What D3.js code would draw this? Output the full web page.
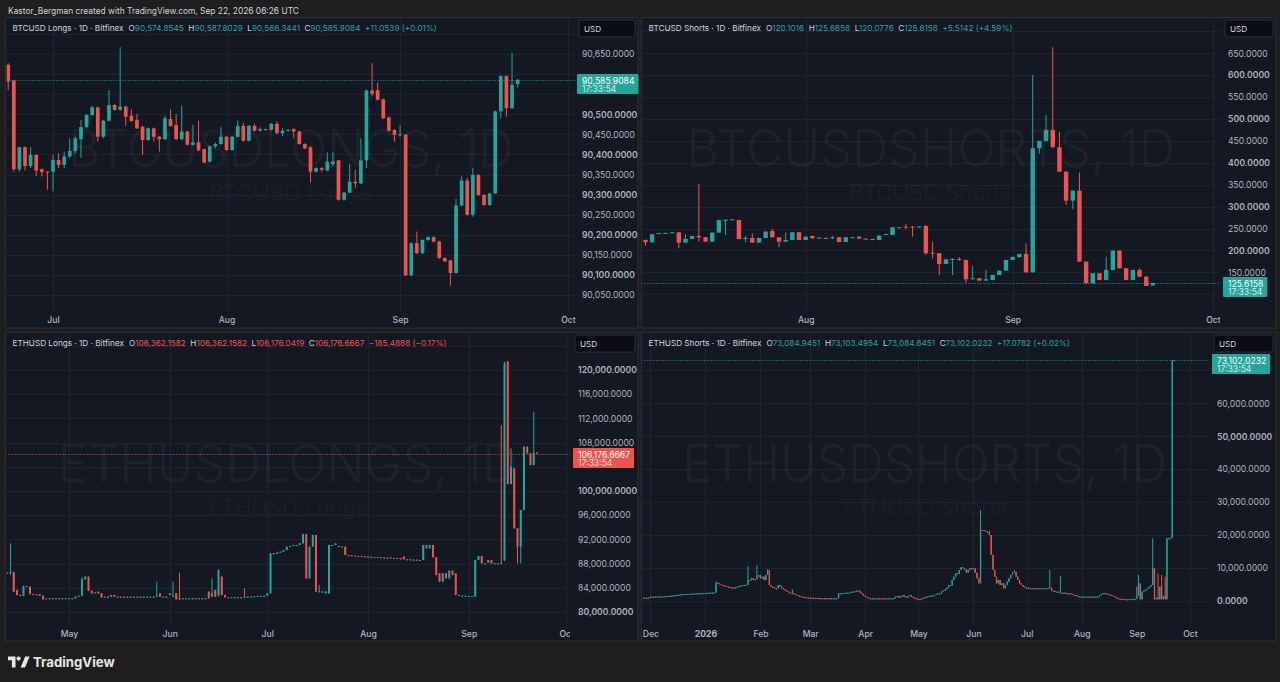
<!DOCTYPE html>
<html>
<head>
<meta charset="utf-8">
<script src="https://cdn.jsdelivr.net/npm/d3@7/dist/d3.min.js"></script>
<style>
  html, body { margin:0; padding:0; background:#1e1e1e; }
  svg { display:block; }
</style>
</head>
<body>
<svg id="chart" width="1280" height="682"></svg>
<script>
// ===================== DATA =====================
const headerText = "Kastor_Bergman created with TradingView.com, Sep 22, 2026 06:26 UTC";
const countdown = "17:33:54";

// ---- BTCUSD Longs, daily [open, high, low, close]
const btcLongsJun = [ // from 2026-06-23
  [90623, 90627, 90560, 90581],[90584, 90584, 90357, 90363],[90363, 90418, 90357, 90418],[90418, 90420, 90360, 90371],
  [90371, 90418, 90366, 90399],[90399, 90399, 90347, 90360],[90363, 90365, 90345, 90356],[90357, 90358, 90312, 90355]
];
const btcLongsJul = [
  [90357, 90399, 90308, 90386],[90386, 90403, 90366, 90374],[90374, 90407, 90366, 90395],[90395, 90440, 90391, 90409],
  [90409, 90444, 90403, 90440],[90438, 90486, 90391, 90468],[90468, 90501, 90465, 90498],[90498, 90521, 90496, 90517],
  [90517, 90519, 90432, 90444],[90444, 90486, 90440, 90484],[90484, 90560, 90482, 90523],[90523, 90525, 90509, 90511],
  [90511, 90667, 90509, 90519],[90519, 90521, 90471, 90494],[90496, 90512, 90481, 90483],[90486, 90501, 90463, 90465],
  [90469, 90471, 90399, 90436],[90436, 90467, 90434, 90465],[90465, 90467, 90432, 90444],[90444, 90446, 90407, 90438],
  [90438, 90496, 90436, 90490],[90488, 90512, 90469, 90471],[90473, 90501, 90436, 90438],[90438, 90521, 90436, 90457],
  [90457, 90459, 90422, 90424],[90424, 90473, 90422, 90430],[90430, 90484, 90408, 90410],[90413, 90415, 90378, 90380],
  [90382, 90422, 90380, 90420],[90420, 90430, 90415, 90426],[90426, 90468, 90424, 90444]
];
const btcLongsAug = [
  [90444, 90446, 90409, 90411],[90411, 90446, 90409, 90444],[90444, 90484, 90442, 90471],[90471, 90479, 90432, 90434],
  [90434, 90473, 90432, 90471],[90471, 90476, 90457, 90459],[90459, 90468, 90457, 90463],[90463, 90464, 90459, 90461],
  [90461, 90478, 90459, 90476],[90476, 90482, 90451, 90453],[90453, 90465, 90446, 90459],[90459, 90463, 90457, 90461],
  [90463, 90465, 90440, 90457],[90457, 90459, 90424, 90426],[90426, 90428, 90413, 90415],[90418, 90420, 90330, 90357],
  [90357, 90368, 90355, 90366],[90366, 90368, 90357, 90362],[90360, 90405, 90358, 90382],[90376, 90405, 90370, 90382],
  [90385, 90386, 90285, 90287],[90287, 90307, 90285, 90305],[90305, 90376, 90303, 90332],[90332, 90362, 90316, 90328],
  [90328, 90440, 90326, 90385],[90385, 90562, 90366, 90559],[90559, 90627, 90545, 90551],[90560, 90579, 90534, 90536],
  [90537, 90539, 90488, 90490],[90492, 90494, 90457, 90459],[90461, 90463, 90432, 90449]
];
const btcLongsSep = [
  [90449, 90473, 90444, 90450],[90449, 90451, 90097, 90099],[90099, 90181, 90097, 90179],[90179, 90208, 90152, 90154],
  [90154, 90189, 90152, 90187],[90187, 90196, 90185, 90194],[90194, 90196, 90181, 90183],[90183, 90185, 90140, 90142],
  [90142, 90144, 90132, 90134],[90136, 90138, 90073, 90105],[90105, 90289, 90103, 90273],[90273, 90345, 90271, 90335],
  [90335, 90341, 90248, 90250],[90250, 90366, 90245, 90349],[90349, 90351, 90297, 90299],[90299, 90301, 90272, 90274],
  [90274, 90305, 90272, 90303],[90303, 90509, 90301, 90507],[90507, 90597, 90490, 90595],[90595, 90597, 90494, 90515],
  [90515, 90653, 90513, 90573],[90574.8545, 90587.8029, 90566.3441, 90585.9084]
];
const btcLongsPriceTicks = [90050,90100,90150,90200,90250,90300,90350,90400,90450,90500,90550,90600,90650,90700];
const btcLongsTimeTicks = ["2026-07-01","2026-08-01","2026-09-01","2026-10-01"];

// ---- BTCUSD Shorts, daily [open, high, low, close]
const btcShortsJul = [ // from 2026-07-08
  [224, 224.5, 210, 218.5],[218.5, 237, 218, 236.8],[239, 240, 238.5, 239.5],[239.5, 240.5, 239, 240],
  [240.5, 241.8, 240, 241.3],[241.3, 241.5, 204.8, 217.8],[217.8, 236.8, 217, 226.1],[226.1, 233.5, 225.5, 233],
  [233, 351.7, 220, 230],[230, 230.5, 219, 220],[220, 241, 219.5, 240.6],[240.6, 270, 240, 269.5],
  [269, 271, 235.3, 270],[270.5, 271.5, 270, 271],[269.5, 270, 225.5, 226.1],[226.1, 233, 218.5, 228.4],
  [228.4, 239, 217, 217.8],[217.8, 229, 217, 228.4],[228.4, 243.5, 228, 242.9],[244.4, 249, 229.5, 229.9],
  [229.9, 230.5, 207.1, 220],[220, 240.6, 219.5, 223.8],[223.8, 241.8, 223.3, 241.3],[241.3, 241.8, 223.3, 223.8]
];
const btcShortsAug = [
  [223.8, 232, 223.3, 231.5],[233, 233.5, 225.4, 228.4],[229, 229.8, 228.6, 229.2],[228.6, 229, 228, 228.4],
  [229.6, 233, 225.4, 229.9],[229.9, 230.4, 218.8, 219.3],[219.3, 230.4, 218.8, 229.9],[229.9, 230.4, 229.4, 229.9],
  [231.5, 232, 226.4, 226.9],[226.9, 227.4, 226.4, 226.9],[226.1, 226.6, 223.3, 223.8],[223.8, 234.2, 223.3, 233.7],
  [235.3, 237.8, 235, 237.5],[235.3, 253.3, 234.8, 252.8],[252.8, 253.3, 252.3, 252.8],[254.3, 260.4, 248.2, 252],
  [254.3, 254.8, 231.5, 252],[254.3, 254.8, 253.8, 254.3],[255.8, 258.1, 189.6, 193.4],[194.9, 220, 182, 193.4],
  [193.4, 193.9, 143.9, 169],[169, 180.2, 168.5, 179.7],[178.2, 182, 143.9, 180.5],[180, 185, 176, 179],
  [178.2, 178.7, 126.4, 134.1],[134.1, 164.5, 133.6, 136.3],[136.3, 136.8, 130.5, 131],[131, 155.4, 130.5, 134.1],
  [132.5, 144.4, 132, 143.9],[143.9, 154.3, 143.4, 153.8],[153.8, 178.7, 153.3, 178.2]
];
const btcShortsSep = [
  [178.2, 185.5, 177.7, 185],[184.3, 192.4, 183.8, 191.9],[191.9, 216.2, 149.5, 150],[150, 600.5, 149.5, 433.1],
  [433.1, 450.4, 420.2, 449.9],[449.9, 509.2, 449.4, 475],[475, 663.7, 434.9, 435.4],[435.4, 471.2, 379.3, 379.8],
  [379.8, 380.3, 303.7, 313.6],[313.6, 337, 293.9, 336.5],[336.5, 377.6, 173.9, 174.4],[174.4, 174.9, 124.4, 124.9],
  [124.9, 148.2, 124.4, 147.7],[147.7, 148.2, 132, 132.5],[132.5, 185.8, 132, 155.4],[155.4, 200, 155, 199.5],
  [199.5, 200, 158.6, 159.1],[159.1, 159.6, 132, 132.5],[132.5, 155.9, 132, 155.4],[155.4, 159.1, 139.6, 140.1],
  [140.1, 140.6, 118.3, 118.8],[120.1016, 125.6658, 120.0776, 125.6158]
];
const btcShortsPriceTicks = [100,150,200,250,300,350,400,450,500,550,600,650,700];
const btcShortsTimeTicks = ["2026-08-01","2026-09-01","2026-10-01"];

// ---- ETHUSD Longs, daily [open, high, low, close]
const ethLongsApr = [ // from 2026-04-12
  [86499, 86550, 86440, 86480],[86480, 91348, 86114, 86600],[86600, 86650, 83300, 83360],[83634, 83700, 82750, 82808],
  [82808, 82850, 82600, 82642],[82642, 84350, 82600, 84295],[84185, 84350, 84150, 84295],[84185, 84220, 82900, 82973],
  [82973, 83000, 82940, 82960],[82918, 82950, 82900, 82930],[82973, 82990, 82680, 82697],[82697, 82720, 82050, 82091],
  [82200, 82280, 82150, 82257],[82257, 82280, 82200, 82230],[82230, 82280, 82200, 82257],[82257, 82300, 82230, 82280],
  [82280, 82300, 82230, 82250],[82250, 82270, 82220, 82240],[82240, 82280, 82220, 82257]
];
const ethLongsMay = [
  [82257, 82290, 82240, 82270],[82270, 82290, 82230, 82257],[82257, 82560, 82230, 82532],[82532, 82720, 82500, 82697],
  [82697, 85728, 82680, 85397],[85397, 85900, 85350, 85838],[85838, 85860, 83450, 83524],[83524, 83550, 83050, 83083],
  [83250, 83280, 83200, 83250],[83360, 83380, 83050, 83083],[83083, 83100, 82400, 82422],[82422, 82560, 82400, 82532],
  [82532, 82560, 82500, 82532],[82532, 82820, 82510, 82808],[82808, 82830, 82500, 82532],[82532, 82560, 82500, 82520],
  [82520, 82550, 82490, 82532],[82532, 82560, 82500, 82530],[82530, 82560, 82500, 82532],[82532, 82550, 82480, 82500],
  [82500, 82540, 82470, 82520],[82520, 82560, 82500, 82532],[82532, 82550, 82500, 82510],[82510, 82550, 82490, 82532],
  [82532, 82560, 82500, 82530],[82530, 82560, 82500, 82532],[82532, 82560, 82500, 82540],[82532, 85012, 82500, 82700],
  [83083, 83100, 82500, 82532],[82532, 82560, 82500, 82532],[82532, 82560, 82500, 82520]
];
const ethLongsJun = [
  [82808, 83100, 82780, 83083],[82600, 85012, 82500, 82700],[83083, 83100, 82050, 82091],[82257, 86499, 81981, 82200],
  [82257, 82280, 82230, 82257],[82257, 82280, 82230, 82250],[82250, 82280, 82230, 82257],[82257, 82280, 82230, 82257],
  [82257, 82290, 82230, 82270],[82270, 82280, 82230, 82257],[82257, 82280, 82230, 82250],[82250, 82280, 82230, 82257],
  [83360, 83400, 82230, 82257],[82532, 85563, 82500, 83083],[83634, 83660, 82500, 82532],[82700, 87050, 82600, 86940],
  [85838, 85900, 82780, 82808],[82808, 82830, 82400, 82422],[82422, 82450, 82400, 82422],[82422, 82450, 82400, 82430],
  [82430, 82450, 82400, 82422],[82422, 82450, 82400, 82422],[82422, 82450, 82400, 82440],[82532, 83910, 82500, 82520],
  [82520, 82560, 82500, 82532],[82532, 82580, 82510, 82560],[82560, 82620, 82540, 82600],[82600, 82660, 82580, 82642],
  [82642, 82680, 82620, 82660],[82660, 82710, 82640, 82697]
];
const ethLongsJul = [
  [82697, 83100, 82680, 83083],[83083, 89750, 83050, 89695],[89695, 89720, 89650, 89680],[89585, 89850, 89560, 89805],
  [89805, 89990, 89780, 89970],[89970, 90260, 89950, 90246],[90246, 90820, 90230, 90797],[90907, 90930, 90880, 90907],
  [90907, 91100, 90890, 91073],[91073, 91090, 91050, 91073],[91073, 91370, 91050, 91348],[91348, 92950, 91330, 92891],
  [92891, 92920, 85500, 85563],[85563, 90830, 85540, 90797],[90797, 92750, 90780, 92728],[92728, 92750, 83330, 83360],
  [83360, 84460, 83300, 83400],[83360, 83390, 83330, 83360],[83083, 83500, 83050, 83360],[83083, 91100, 83050, 91073],
  [91073, 91100, 91050, 91073],[91073, 91348, 91050, 91348],[90907, 90930, 90780, 90797],[90797, 90820, 90780, 90797],
  [90797, 90820, 89400, 89420],[89420, 89440, 89340, 89364],[89364, 89390, 89290, 89309],[89309, 89330, 89230, 89254],
  [89254, 89280, 89230, 89254],[89254, 89270, 89180, 89199],[89199, 89220, 89120, 89144]
];
const ethLongsAug = [
  [89144, 89170, 89120, 89144],[89144, 89160, 89070, 89089],[89089, 89110, 89070, 89089],[89089, 89110, 89010, 89034],
  [89034, 89060, 89010, 89034],[89034, 89050, 88960, 88979],[88979, 89000, 88960, 88979],[88979, 89000, 88900, 88924],
  [88924, 88950, 88900, 88924],[88924, 88940, 88850, 88869],[88869, 88890, 88790, 88813],[89144, 89170, 88680, 88703],
  [88703, 88730, 88680, 88703],[88703, 88720, 88630, 88648],[88648, 88670, 88630, 88648],[88648, 88660, 88570, 88593],
  [88593, 88620, 88570, 88593],[88593, 91100, 88570, 91073],[91073, 91090, 90500, 90522],[90522, 91100, 90500, 91073],
  [91073, 91090, 89000, 89034],[89034, 89060, 86080, 86114],[86389, 86420, 84980, 85012],[85012, 86420, 84980, 86389],
  [86389, 86420, 85540, 85563],[85563, 86860, 85540, 86830],[86830, 86860, 86080, 86114],[86389, 86420, 82780, 82808],
  [82808, 82830, 82780, 82808],[82697, 82720, 82680, 82697],[82697, 82720, 82680, 82697]
];
const ethLongsSep = [
  [82642, 82660, 82620, 82642],[82642, 82660, 82620, 82650],[82532, 88620, 82510, 88593],[88593, 89280, 88570, 89254],
  [89254, 89280, 88020, 88042],[88042, 88070, 88020, 88042],[88152, 88620, 88130, 88593],[88593, 88620, 88020, 88042],
  [88042, 88070, 88020, 88042],[88042, 88070, 87950, 88042],[88100, 110909, 87900, 88000],[88600, 121350, 88400, 121102],
  [121378, 121500, 101100, 101156],[101156, 107052, 101100, 104021],[103746, 103780, 93800, 93828],[93828, 93850, 88042, 90797],
  [90797, 96900, 88042, 96858],[96858, 107400, 96800, 107327],[107327, 107350, 106200, 106225],[106225, 106250, 104270, 104297],
  [104297, 113113, 104250, 106362],[106362.1582, 106362.1582, 106176.0419, 106176.6667]
];
const ethLongsPriceTicks = [80000,84000,88000,92000,96000,100000,104000,108000,112000,116000,120000,124000];
const ethLongsTimeTicks = ["2026-05-01","2026-06-01","2026-07-01","2026-08-01","2026-09-01","2026-10-01"];

// ---- ETHUSD Shorts, daily closes (open = previous close), by month
const ethShortsNov = [1000, 1010, 990, 1012]; // from 2025-11-27
const ethShortsDec = [1316,1290,1310,1330,1330,1380,1370,1420,1470,1460,1540,1600,1590,1680,1760,1822,1870,1990,2060,2100,2125,2120,2170,2200,2230,2300,2330,2320,2330,2380,2400];
const ethShortsJan = [2430,2470,2500,2540,2510,2530,5566,5364,5100,4858,4700,4554,4352,4250,4150,4048,4060,4150,4352,4554,4700,4858,4830,4900,6376,6300,6882,6376,6600,7388,7894];
const ethShortsFeb = [6882,7388,6376,7894,9412,4858,4352,4200,3846,3846,4858,4352,3846,3542,3137,2834,2530,2328,2328,2125,1822,1620,1518,1316,1200,1100,1012,1012];
const ethShortsMar = [1000,950,910,900,880,850,830,810,810,830,820,810,800,810,820,810,2328,2328,2400,2430,2480,2530,2530,2834,2834,2900,3137,3137,2530,2125,1620];
const ethShortsApr = [1316,1012,810,810,800,790,800,810,800,790,800,790,810,800,800,810,820,1316,1518,1012,1316,1822,1316,1012,1518,1822,1316,1012,810,700];
const ethShortsMay = [600,506,810,1012,1316,1280,1518,1620,1580,1822,2125,2328,2280,2834,3137,3542,4048,4858,4700,6376,7388,8400,8200,9412,10221,9918,9614,8602,9412,9918,9614];
const ethShortsJun = [9918,8602,6882,5364,21556,21556,21300,21050,21050,20038,14000,9412,7388,5364,6376,4858,5364,3846,4858,5870,6882,7894,8602,8906,7388,6376,5364,4858,4352,4048];
const ethShortsJul = [4048,3950,3846,3846,3900,3846,3846,3800,3846,3900,3846,3846,3950,4048,3137,3137,2834,2834,2530,2530,2328,2530,2328,2125,2328,2125,1822,1822,1518,1316,1316];
const ethShortsAug = [1316,1300,1316,1316,1250,1316,1316,1300,1316,1350,1822,2125,2328,2328,2125,2000,1822,1518,1316,1012,810,700,600,600,550,506,506,600,550,600,700];
const ethShortsSep = [1518,5364,506,2834,3137,3542,3846,4352,4858,9918,506,1012,506,4352,506,1518,506,19026,19060,19085,73085];
const ethShortsLast = [73084.9451, 73103.4954, 73084.6451, 73102.0232]; // 2026-09-22 [o,h,l,c]
const ethShortsWickHighs = [
  ["2026-01-07", 5870], ["2026-01-25", 10626], ["2026-01-30", 10930], ["2026-02-05", 9614],
  ["2026-02-19", 3542], ["2026-06-05", 27628], ["2026-06-24", 9412], ["2026-07-14", 9412],
  ["2026-07-20", 7590], ["2026-09-01", 4352], ["2026-09-02", 7894], ["2026-09-10", 19026],
  ["2026-09-13", 8400], ["2026-09-15", 7894], ["2026-09-17", 7388]
];
const ethShortsPriceTicks = [0,10000,20000,30000,40000,50000,60000,70000];
const ethShortsTimeTicks = ["2025-12-01","2026-01-01","2026-02-01","2026-03-01","2026-04-01","2026-05-01","2026-06-01","2026-07-01","2026-08-01","2026-09-01","2026-10-01"];

// ===================== BUILD =====================
const utc = s => new Date(s + "T00:00:00Z");
function fromRows(blocks) {
  const out = [];
  blocks.forEach(([start, rows]) => rows.forEach((r, i) =>
    out.push({date: d3.utcDay.offset(utc(start), i), o: r[0], h: r[1], l: r[2], c: r[3]})));
  return out;
}
const btcLongs = fromRows([["2026-06-23", btcLongsJun], ["2026-07-01", btcLongsJul], ["2026-08-01", btcLongsAug], ["2026-09-01", btcLongsSep]]);
const btcShorts = fromRows([["2026-07-08", btcShortsJul], ["2026-08-01", btcShortsAug], ["2026-09-01", btcShortsSep]]);
const ethLongs = fromRows([["2026-04-12", ethLongsApr], ["2026-05-01", ethLongsMay], ["2026-06-01", ethLongsJun], ["2026-07-01", ethLongsJul], ["2026-08-01", ethLongsAug], ["2026-09-01", ethLongsSep]]);
const ethShorts = (() => {
  const blocks = [["2025-11-27", ethShortsNov], ["2025-12-01", ethShortsDec], ["2026-01-01", ethShortsJan], ["2026-02-01", ethShortsFeb],
    ["2026-03-01", ethShortsMar], ["2026-04-01", ethShortsApr], ["2026-05-01", ethShortsMay], ["2026-06-01", ethShortsJun],
    ["2026-07-01", ethShortsJul], ["2026-08-01", ethShortsAug], ["2026-09-01", ethShortsSep]];
  const out = []; let prev = null;
  blocks.forEach(([start, closes]) => closes.forEach((c, i) => {
    const o = prev == null ? c : prev;
    out.push({date: d3.utcDay.offset(utc(start), i), o, h: Math.max(o, c), l: Math.min(o, c), c});
    prev = c;
  }));
  const byKey = new Map(out.map(d => [d3.utcFormat("%Y-%m-%d")(d.date), d]));
  ethShortsWickHighs.forEach(([k, h]) => { const d = byKey.get(k); if (d) d.h = Math.max(d.h, h); });
  out.push({date: utc("2026-09-22"), o: ethShortsLast[0], h: ethShortsLast[1], l: ethShortsLast[2], c: ethShortsLast[3]});
  return out;
})();

// ===================== LAYOUT / STYLE =====================
const FONT = 'Inter, "Noto Sans", "DejaVu Sans", sans-serif';
const UP = "#26a69a", DOWN = "#ef5350";
const OUTER = "#1e1e1e", PANEL = "#141823", GRID = "#1f2330", TXT = "#d1d4dc", AXTXT = "#b2b5be";
const WM = "rgba(255,255,255,0.038)";

const panels = [
  {id:"p1", candles: btcLongs, title:"BTCUSD Longs · 1D · Bitfinex", change:"+11.0539 (+0.01%)",
   wmBig:"BTCUSDLONGS, 1D", wmSmall:"BTCUSD Longs", wmBigW:445, wmSmallW:162,
   left:5.5, top:17.5, right:638, bottom:328, plotRight:576, plotBottom:311, axisX:582, timeY:319.5,
   xDomain:["2026-07-01","2026-10-01"], xRange:[53,568], yDomain:[90050,90650], yRange:[295,54],
   priceTicks: btcLongsPriceTicks, timeTicks: btcLongsTimeTicks, majorStep:100, bodyFrac:0.66},
  {id:"p2", candles: btcShorts, title:"BTCUSD Shorts · 1D · Bitfinex", change:"+5.5142 (+4.59%)",
   wmBig:"BTCUSDSHORTS, 1D", wmSmall:"BTCUSD Shorts", wmBigW:489, wmSmallW:162,
   left:641.5, top:17.5, right:1276, bottom:328, plotRight:1220, plotBottom:311, axisX:1228, timeY:319.5,
   xDomain:["2026-08-01","2026-10-01"], xRange:[805.7,1213], yDomain:[150,650], yRange:[272.3,53.3],
   priceTicks: btcShortsPriceTicks, timeTicks: btcShortsTimeTicks, majorStep:100, bodyFrac:0.66},
  {id:"p3", candles: ethLongs, title:"ETHUSD Longs · 1D · Bitfinex", change:"\u2212185.4888 (\u22120.17%)",
   wmBig:"ETHUSDLONGS, 1D", wmSmall:"ETHUSD Longs", wmBigW:460, wmSmallW:160,
   left:5.5, top:332.5, right:638, bottom:641, plotRight:570, plotBottom:625, axisX:578, timeY:633.5,
   xDomain:["2026-05-01","2026-10-01"], xRange:[69,566.25], yDomain:[80000,120000], yRange:[612,370],
   priceTicks: ethLongsPriceTicks, timeTicks: ethLongsTimeTicks, majorStep:20000, bodyFrac:0.62},
  {id:"p4", candles: ethShorts, title:"ETHUSD Shorts · 1D · Bitfinex", change:"+17.0782 (+0.02%)",
   wmBig:"ETHUSDSHORTS, 1D", wmSmall:"ETHUSD Shorts", wmBigW:485, wmSmallW:165,
   left:641.5, top:332.5, right:1276, bottom:641, plotRight:1208, plotBottom:625, axisX:1217, timeY:633.5,
   xDomain:["2025-12-01","2026-10-01"], xRange:[650.4,1190], yDomain:[0,60000], yRange:[601,403.3],
   priceTicks: ethShortsPriceTicks, timeTicks: ethShortsTimeTicks, majorStep:50000, bodyFrac:0.7}
];

// ===================== DRAW =====================
const svg = d3.select("#chart");
const defs = svg.append("defs");
svg.append("rect").attr("width",1280).attr("height",682).attr("fill",OUTER);
svg.append("text").attr("x",8).attr("y",13.5).attr("fill",TXT).attr("font-family",FONT)
   .attr("font-size",8.4).text(headerText);

const fmt4 = d3.format(",.4f");
const fmtPrice = v => fmt4(v).replace("-", "\u2212");
const fmtTime = d => d.getUTCMonth() === 0 ? d3.utcFormat("%Y")(d) : d3.utcFormat("%b")(d);

panels.forEach(drawPanel);

function drawPanel(p) {
  const g = svg.append("g");
  g.append("rect").attr("x",p.left).attr("y",p.top).attr("width",p.right-p.left).attr("height",p.bottom-p.top)
    .attr("fill",PANEL).attr("stroke","#2a2e39");
  const x = d3.scaleUtc().domain(p.xDomain.map(utc)).range(p.xRange);
  const y = d3.scaleLinear().domain(p.yDomain).range(p.yRange);

  defs.append("clipPath").attr("id","clip-"+p.id).append("rect")
    .attr("x",p.left+1).attr("y",p.top+1).attr("width",p.plotRight-p.left-1).attr("height",p.plotBottom-p.top-1);
  const plot = g.append("g").attr("clip-path",`url(#clip-${p.id})`);

  // grid
  plot.append("g").selectAll("line").data(p.priceTicks).join("line")
    .attr("x1",p.left).attr("x2",p.plotRight)
    .attr("y1",d=>Math.round(y(d))+0.5).attr("y2",d=>Math.round(y(d))+0.5)
    .attr("stroke",GRID).attr("stroke-width",1);
  plot.append("g").selectAll("line").data(p.timeTicks.map(utc)).join("line")
    .attr("x1",d=>Math.round(x(d))+0.5).attr("x2",d=>Math.round(x(d))+0.5)
    .attr("y1",p.top).attr("y2",p.plotBottom)
    .attr("stroke",GRID).attr("stroke-width",1);

  // watermark
  const cx = (p.left + p.plotRight) / 2;
  plot.append("text").attr("x",cx).attr("y",p.top+149).attr("text-anchor","middle")
    .attr("font-family",FONT).attr("font-size",52).attr("font-weight",300).attr("fill",WM)
    .attr("textLength",p.wmBigW).attr("lengthAdjust","spacingAndGlyphs").text(p.wmBig);
  plot.append("text").attr("x",cx).attr("y",p.top+182).attr("text-anchor","middle")
    .attr("font-family",FONT).attr("font-size",21).attr("font-weight",300).attr("fill",WM)
    .attr("textLength",p.wmSmallW).attr("lengthAdjust","spacingAndGlyphs").text(p.wmSmall);

  // candles
  const t0 = utc("2026-01-01");
  const step = x(d3.utcDay.offset(t0,1)) - x(t0);
  const bw = Math.max(1, step * p.bodyFrac);
  const col = d => d.c >= d.o ? UP : DOWN;
  const cg = plot.append("g");
  cg.selectAll("rect.wick").data(p.candles).join("rect").attr("class","wick")
    .attr("x",d=>x(d.date)-0.5).attr("width",1)
    .attr("y",d=>y(d.h)).attr("height",d=>Math.max(1, y(d.l)-y(d.h)))
    .attr("fill",col);
  cg.selectAll("rect.body").data(p.candles).join("rect").attr("class","body")
    .attr("x",d=>x(d.date)-bw/2).attr("width",bw)
    .attr("y",d=>y(Math.max(d.o,d.c))).attr("height",d=>Math.max(1, Math.abs(y(d.o)-y(d.c))))
    .attr("fill",col);

  // last price line
  const last = p.candles[p.candles.length-1];
  const lc = col(last);
  const py = Math.round(y(last.c)) + 0.5;
  plot.append("line").attr("x1",p.left).attr("x2",p.plotRight).attr("y1",py).attr("y2",py)
    .attr("stroke",lc).attr("stroke-width",1).attr("stroke-dasharray","1,2");

  // price axis: labels hidden under the USD box / last-price label are not drawn
  const ux = p.axisX - 3, uy = p.top + 2.5;
  const boxTop = py - 6.5, boxBot = py + 13.5;
  const labelTicks = p.priceTicks.filter(t => {
    const ty = y(t);
    const underUsd = ty > uy - 3 && ty < uy + 17 + 3;
    const underPrice = ty > boxTop - 3 && ty < boxBot + 3;
    return !underUsd && !underPrice;
  });
  const ya = g.append("g").attr("transform",`translate(${p.axisX},0)`)
    .call(d3.axisRight(y).tickValues(labelTicks).tickFormat(fmt4).tickSize(0).tickPadding(0));
  ya.select(".domain").remove();
  ya.selectAll("text").attr("x",0).attr("fill",AXTXT).attr("font-family",FONT).attr("font-size",8.6)
    .attr("font-weight",d => d % p.majorStep === 0 ? 600 : 400).attr("text-anchor","start");

  // time axis
  defs.append("clipPath").attr("id","tclip-"+p.id).append("rect")
    .attr("x",p.left).attr("y",-10).attr("width",p.plotRight-p.left).attr("height",20);
  const xa = g.append("g").attr("transform",`translate(0,${p.timeY})`).attr("clip-path",`url(#tclip-${p.id})`)
    .call(d3.axisBottom(x).tickValues(p.timeTicks.map(utc)).tickFormat(fmtTime).tickSize(0).tickPadding(0));
  xa.select(".domain").remove();
  xa.selectAll("text").attr("y",0).attr("dy","0.35em").attr("fill",AXTXT).attr("font-family",FONT)
    .attr("font-size",8.6).attr("font-weight",d => d.getUTCMonth()===0 ? 700 : 500);

  // USD box
  g.append("rect").attr("x",ux).attr("y",uy).attr("width",p.right-3-ux).attr("height",17).attr("rx",2)
    .attr("fill","#0b0d12").attr("stroke","#2a2e39");
  g.append("text").attr("x",ux+5).attr("y",uy+11.8).attr("fill",TXT).attr("font-family",FONT)
    .attr("font-size",8.2).text("USD");

  // last price label
  const lg = g.append("g");
  const bx = p.axisX - 5;
  const rect = lg.append("rect").attr("y",boxTop).attr("height",20).attr("fill",lc).attr("rx",1);
  const t1 = lg.append("text").attr("x",p.axisX).attr("y",py+3).attr("fill","#ffffff").attr("font-family",FONT)
    .attr("font-size",8.6).text(fmtPrice(last.c));
  lg.append("text").attr("x",p.axisX).attr("y",py+11.8).attr("fill","rgba(255,255,255,0.8)").attr("font-family",FONT)
    .attr("font-size",8.6).text(countdown);
  const w = t1.node().getComputedTextLength();
  rect.attr("x",bx).attr("width",w+9);

  // legend
  const leg = g.append("text").attr("x",p.left+7).attr("y",p.top+13.8).attr("fill",TXT)
    .attr("font-family",FONT).attr("font-size",8.2);
  leg.append("tspan").text(p.title);
  [["O",last.o],["H",last.h],["L",last.l],["C",last.c]].forEach(([k,v],i) => {
    leg.append("tspan").attr("dx", i===0 ? 5 : 4.5).text(k);
    leg.append("tspan").attr("fill",lc).text(fmtPrice(v));
  });
  leg.append("tspan").attr("dx",4.5).attr("fill",lc).text(p.change);
}

// TradingView logo
const logo = svg.append("g").attr("fill","#e6e6e6");
logo.append("path").attr("d","M8,656.5 h7.5 v11 h-3.6 v-7.2 h-3.9 z");
logo.append("circle").attr("cx",18.6).attr("cy",658.6).attr("r",2.1);
logo.append("path").attr("d","M20.6,667.5 L25.2,656.5 H29.6 L25,667.5 Z");
svg.append("text").attr("x",33).attr("y",667).attr("fill","#e6e6e6").attr("font-family",FONT)
  .attr("font-size",13.2).attr("font-weight",700).text("TradingView");
</script>
</body>
</html>
